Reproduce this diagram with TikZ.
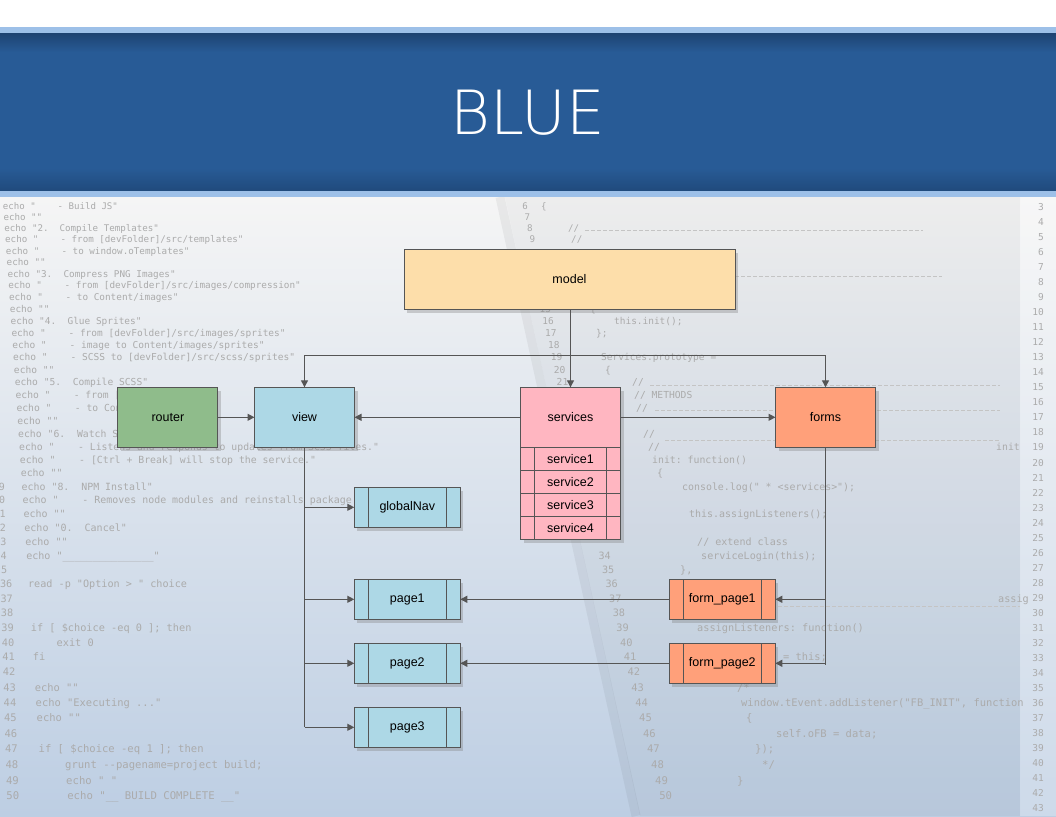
\documentclass[tikz,border=0pt]{standalone}
\usepackage{fontspec}
\setmonofont{DejaVu Sans Mono}
\newfontfamily\diagfont{Liberation Sans}
\IfFontExistsTF{DejaVuSans-ExtraLight.ttf}
  {\newfontfamily\titlefont{DejaVuSans-ExtraLight.ttf}}
  {\newfontfamily\titlefont{Open Sans}}
\usetikzlibrary{arrows.meta,positioning,shadows}

\definecolor{bannerdark}{HTML}{1E4473}
\definecolor{bannermid}{HTML}{285B96}
\definecolor{bannerlow}{HTML}{204A7C}
\definecolor{stripe}{HTML}{9DC0E8}
\definecolor{papertop}{HTML}{F5F5F5}
\definecolor{papermid}{HTML}{E3E8EF}
\definecolor{paperlow}{HTML}{BDCEE3}
\definecolor{codegray}{HTML}{ABABAB}
\definecolor{edge}{HTML}{555555}
\definecolor{modelfill}{HTML}{FDDEAA}
\definecolor{servicefill}{HTML}{FFB6C1}
\definecolor{routerfill}{HTML}{8FBC8B}
\definecolor{viewfill}{HTML}{ADD8E6}
\definecolor{formfill}{HTML}{FFA07A}

\newcommand{\codeline}[4][west]{%
  \pgfmathsetmacro{\codey}{207.3+10.86*#2+0.058*#2*#2}%
  \pgfmathsetmacro{\codesize}{9.1+0.035*#2}%
  \node[code, anchor=#1, font={\fontsize{\codesize}{\codesize}\selectfont\ttfamily}] at (#3,\codey) {#4};}
\newcommand{\leftcode}[3]{%
  \pgfmathsetmacro{\codex}{2.7+0.75*#1+0.003*#1*#1+#2*0.602*(9.1+0.035*#1)}%
  \codeline{#1}{\codex}{#3}}

\begin{document}
\begin{tikzpicture}[
    x=1pt, y=-1pt,
    font=\diagfont\fontsize{12.5}{15}\selectfont,
    >={Triangle[length=7pt,width=7pt]},
    code/.style={inner sep=0pt, text=codegray, text height=7pt, text depth=2pt},
    codedash/.style={draw=codegray!70, line width=.5pt, dash pattern=on 3.5pt off 2.5pt},
    comp/.style={draw=edge, line width=1pt, outer sep=0pt, minimum width=100pt, minimum height=60pt,
        drop shadow={shadow xshift=3pt, shadow yshift=-3.5pt, opacity=.35}},
    sub/.style={comp, minimum width=106pt, minimum height=40pt,
        path picture={\draw[edge, line width=1pt]
            ([xshift=14pt]path picture bounding box.north west) -- ([xshift=14pt]path picture bounding box.south west)
            ([xshift=-14pt]path picture bounding box.north east) -- ([xshift=-14pt]path picture bounding box.south east);}},
    row/.style={sub, minimum width=100pt, minimum height=23pt},
    conn/.style={->, draw=edge, line width=1.2pt},
    wire/.style={draw=edge, line width=1.2pt}
]
\useasboundingbox (0,0) rectangle (1056,816);
\clip (0,0) rectangle (1056,816);

\fill[white] (0,0) rectangle (1056,27);
\shade[top color=papertop, middle color=papermid, bottom color=paperlow] (0,197) rectangle (1056,816);
\fill[black, opacity=.03] (505,197) -- (1020,197) -- (1020,816) -- (640,816) -- cycle;
\draw[black, opacity=.05, line width=9pt] (500,197) -- (636,816);
\fill[white, opacity=.25] (1020,197) rectangle (1056,816);

\leftcode{0}{0}{echo~"~~~~-~Build~JS"}
\leftcode{1}{0}{echo~""}
\leftcode{2}{0}{echo~"2.~~Compile~Templates"}
\leftcode{3}{0}{echo~"~~~~-~from~[devFolder]/src/templates"}
\leftcode{4}{0}{echo~"~~~~-~to~window.oTemplates"}
\leftcode{5}{0}{echo~""}
\leftcode{6}{0}{echo~"3.~~Compress~PNG~Images"}
\leftcode{7}{0}{echo~"~~~~-~from~[devFolder]/src/images/compression"}
\leftcode{8}{0}{echo~"~~~~-~to~Content/images"}
\leftcode{9}{0}{echo~""}
\leftcode{10}{0}{echo~"4.~~Glue~Sprites"}
\leftcode{11}{0}{echo~"~~~~-~from~[devFolder]/src/images/sprites"}
\leftcode{12}{0}{echo~"~~~~-~image~to~Content/images/sprites"}
\leftcode{13}{0}{echo~"~~~~-~SCSS~to~[devFolder]/src/scss/sprites"}
\leftcode{14}{0}{echo~""}
\leftcode{15}{0}{echo~"5.~~Compile~SCSS"}
\leftcode{16}{0}{echo~"~~~~-~from~[}
\leftcode{17}{0}{echo~"~~~~-~to~Con}
\leftcode{18}{0}{echo~""}
\leftcode{19}{0}{echo~"6.~~Watch~S}
\leftcode{20}{0}{echo~"~~~~-~Listens~and~responds~to~updates~from~SCSS~files."}
\leftcode{21}{0}{echo~"~~~~-~[Ctrl~+~Break]~will~stop~the~service."}
\leftcode{22}{0}{echo~""}
\leftcode{23}{0}{echo~"8.~~NPM~Install"}
\leftcode{24}{0}{echo~"~~~~-~Removes~node~modules~and~reinstalls~package}
\leftcode{25}{0}{echo~""}
\leftcode{26}{0}{echo~"0.~~Cancel"}
\leftcode{27}{0}{echo~""}
\leftcode{28}{0}{echo~"\_\_\_\_\_\_\_\_\_\_\_\_\_\_\_"}
\leftcode{30}{0}{read~-p~"Option~>~"~choice}
\leftcode{33}{0}{if~[~\$choice~-eq~0~];~then}
\leftcode{34}{4}{exit~0}
\leftcode{35}{0}{fi}
\leftcode{37}{0}{echo~""}
\leftcode{38}{0}{echo~"Executing~..."}
\leftcode{39}{0}{echo~""}
\leftcode{41}{0}{if~[~\$choice~-eq~1~];~then}
\leftcode{42}{4}{grunt~--pagename=project~build;}
\leftcode{43}{4}{echo~"~"}
\leftcode{44}{4}{echo~"\_\_~BUILD~COMPLETE~\_\_"}
\foreach \n in {9,0,1,2,3,4,5}{
  \pgfmathtruncatemacro{\lineidx}{\n<9 ? \n+24 : 23}
  \pgfmathsetmacro{\numx}{5+0.4*(\lineidx-23)}
  \codeline[east]{\lineidx}{\numx}{\n}
}
\foreach \n in {36,...,50}{
  \pgfmathsetmacro{\lineidx}{\n-6}
  \pgfmathsetmacro{\numx}{12.5+0.5*(\lineidx-30)}
  \codeline[east]{\lineidx}{\numx}{\n}
}

\foreach \n in {6,7,8,9,15,16,17,18,19,20,21,34,35,...,50}{
  \pgfmathsetmacro{\lineidx}{\n-6}
  \pgfmathsetmacro{\numx}{528+2.4*\lineidx+0.02*\lineidx*\lineidx}
  \codeline[east]{\lineidx}{\numx}{\n}
}
\codeline{0}{541}{\{}
\codeline{2}{568}{//}
\codeline{3}{571}{//}
\codeline{9}{590}{\{}
\codeline{10}{614}{this.init();}
\codeline{11}{596}{\};}
\codeline{13}{601}{Services.prototype~=}
\codeline{14}{605}{\{}
\codeline{15}{632}{//}
\codeline{16}{634}{//~METHODS}
\codeline{17}{636}{//}
\codeline{19}{643}{//}
\codeline{20}{648}{//}
\codeline{20}{996}{init}
\codeline{21}{652}{init:~function()}
\codeline{22}{657}{\{}
\codeline{23}{682}{console.log("~*~<services>");}
\codeline{25}{689}{this.assignListeners();}
\codeline{27}{697}{//~extend~class}
\codeline{28}{701}{serviceLogin(this);}
\codeline{29}{680}{\},}
\codeline{31}{998}{assig}
\codeline{33}{697}{assignListeners:~function()}
\codeline{35}{783}{=~this;}
\codeline{37}{737}{/*}
\codeline{38}{741}{window.tEvent.addListener("FB\_INIT",~function}
\codeline{39}{746}{\{}
\codeline{40}{776}{self.oFB~=~data;}
\codeline{41}{755}{\});}
\codeline{42}{762}{*/}
\codeline{43}{737}{\}}
\draw[codedash] (585,230) -- (923,230);
\draw[codedash] (735,276) -- (942,276);
\draw[codedash] (650,385) -- (1000,385);
\draw[codedash] (655,410) -- (1000,410);
\draw[codedash] (665,440) -- (1000,440);
\draw[codedash] (700,606) -- (1020,606);
\foreach \n in {3,...,43}
  \node[code, anchor=east, font=\fontsize{9.5}{9.5}\selectfont\ttfamily] at (1044,{208+15.03*(\n-3)}) {\n};

\fill[stripe] (0,27) rectangle (1056,34);
\shade[top color=bannerdark, bottom color=bannermid] (0,34) rectangle (1056,52);
\fill[bannermid] (0,52) rectangle (1056,168);
\shade[top color=bannermid, bottom color=bannerlow] (0,168) rectangle (1056,191);
\fill[stripe] (0,191) rectangle (1056,197);
\node[text=white, font=\titlefont\fontsize{61}{61}\selectfont] (title) at (528,113) {BLUE};

\node[comp, fill=modelfill, minimum width=331pt] (model) at (569.5,279) {model};
\node[comp, fill=servicefill] (services) at (570.5,417.3) {services};
\node[row, fill=servicefill, below=0pt of services] (service1) {service1};
\node[row, fill=servicefill, below=0pt of service1] (service2) {service2};
\node[row, fill=servicefill, below=0pt of service2] (service3) {service3};
\node[row, fill=servicefill, below=0pt of service3] (service4) {service4};
\node[comp, fill=viewfill, left=166pt of services] (view) {view};
\node[comp, fill=routerfill, left=36.6pt of view] (router) {router};
\node[comp, fill=formfill, right=155pt of services] (forms) {forms};
\node[sub, fill=viewfill] (globalNav) at (407.3,507.3) {globalNav};
\node[sub, fill=viewfill, below=52pt of globalNav] (page1) {page1};
\node[sub, fill=viewfill, below=24pt of page1] (page2) {page2};
\node[sub, fill=viewfill, below=24pt of page2] (page3) {page3};
\node[sub, fill=formfill, right=209pt of page1] (form_page1) {form\_page1};
\node[sub, fill=formfill, right=209pt of page2] (form_page2) {form\_page2};

\draw[conn] (model.south -| services.north) -- (services.north);
\path (services.north) ++(0pt,32pt) coordinate (hub);
\draw[conn] (hub) -| (view.north);
\draw[conn] (hub) -| (forms.north);
\draw[conn] (services.west) -- (view.east);
\draw[conn] (services.east) -- (forms.west);
\draw[conn] (router.east) -- (view.west);
\draw[wire] (view.south) -- (view.south |- page3.west);
\draw[conn] (view.south |- globalNav.west) -- (globalNav.west);
\draw[conn] (view.south |- page1.west) -- (page1.west);
\draw[conn] (view.south |- page2.west) -- (page2.west);
\draw[conn] (view.south |- page3.west) -- (page3.west);
\draw[wire] (forms.south) -- ([yshift=-2pt]forms.south |- form_page2.east);
\draw[conn] (forms.south |- form_page1.east) -- (form_page1.east);
\draw[conn] (forms.south |- form_page2.east) -- (form_page2.east);
\draw[conn] (form_page1.west) -- (page1.east);
\draw[conn] (form_page2.west) -- (page2.east);
\end{tikzpicture}
\end{document}
